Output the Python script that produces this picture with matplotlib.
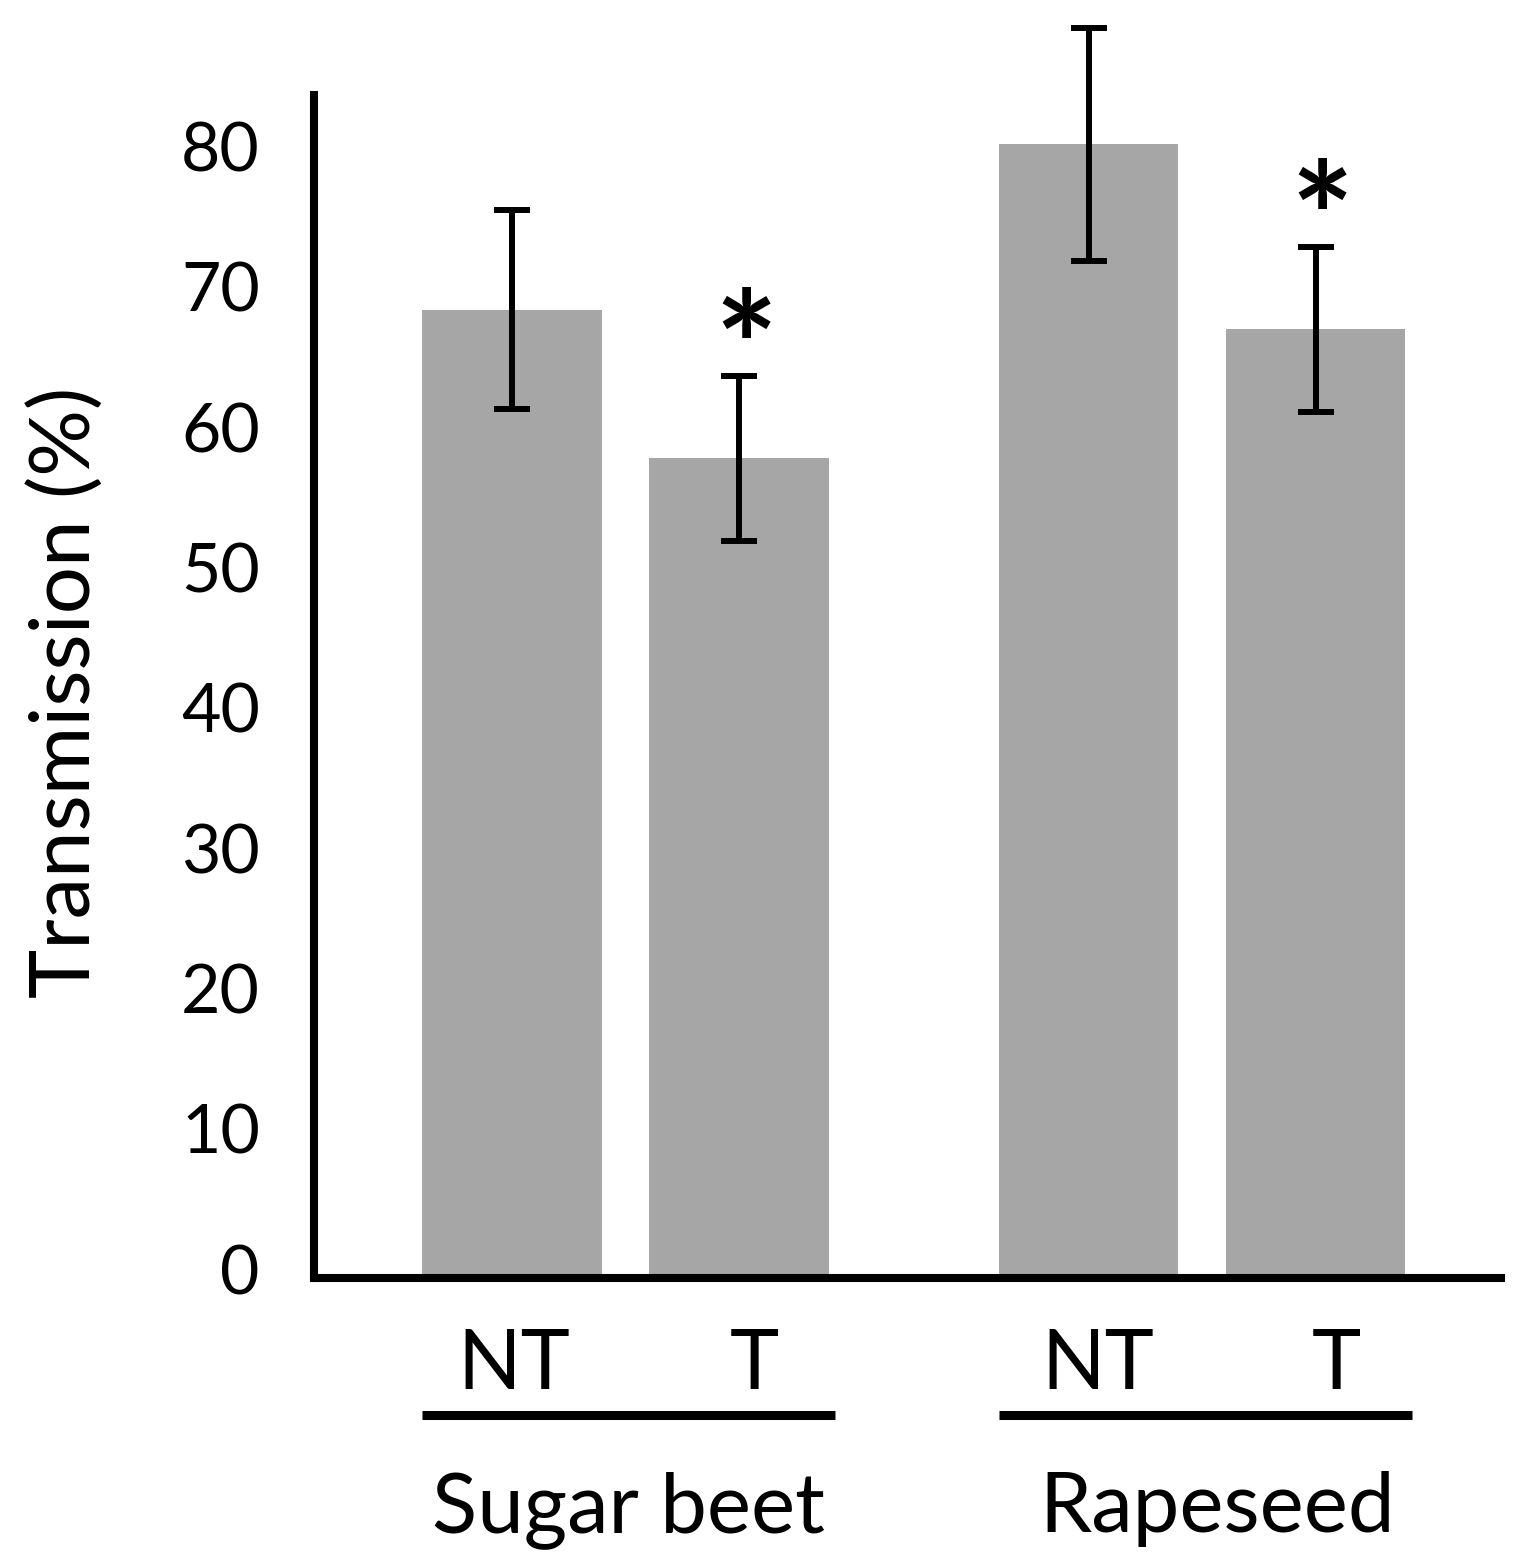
import matplotlib
matplotlib.use("Agg")
from matplotlib import pyplot as plt
from matplotlib.transforms import ScaledTranslation
import numpy as np

# data
groups = ["Sugar beet", "Rapeseed"]
treatments = ["NT", "T", "NT", "T"]
transmission = [69.0, 58.4, 80.8, 67.6]
error = [7.1, 5.9, 8.3, 5.9]
significant = [False, True, False, True]
yticks = [0, 10, 20, 30, 40, 50, 60, 70, 80]

# layout
positions = np.array([0, 1, 2.54, 3.54])
label_shift = [0.01, 0.07, 0.04, 0.09]
group_members = [[0, 1], [2, 3]]
bar_w = 0.79

plt.rcParams['font.family'] = ['Lato', 'DejaVu Sans']

fig = plt.figure(figsize=(15.31, 15.68), dpi=100)
ax = fig.add_axes([0.2051, 0.1849, 0.7753, 0.7545])

ax.bar(positions, transmission, width=bar_w, color="#a6a6a6", zorder=1)
ax.errorbar(positions, transmission, yerr=error, fmt="none", ecolor="black",
            elinewidth=4.3, capsize=13, capthick=4.3, clip_on=False, zorder=3)

ax.set_xlim(-0.872, 4.357)
ax.set_ylim(0, 84.3)

for s in ["top", "right"]:
    ax.spines[s].set_visible(False)
for s in ["left", "bottom"]:
    ax.spines[s].set_linewidth(5.8)
    ax.spines[s].set_capstyle("projecting")

ax.set_yticks(yticks)
ax.set_yticklabels([str(v) for v in yticks])
ax.tick_params(axis="y", length=0, pad=39, labelsize=49)
ax.set_xticks([])
up = ScaledTranslation(0, 0.09, fig.dpi_scale_trans)
for lab in ax.get_yticklabels():
    lab.set_transform(lab.get_transform() + up)

# asterisks above significant bars
for i in range(len(positions)):
    if significant[i]:
        ax.text(positions[i] + 0.03, transmission[i] + error[i] - 1.8, "*",
                ha="center", va="baseline", fontsize=107, fontweight="bold",
                clip_on=False)

# treatment labels under bars
xt = ax.get_xaxis_transform()
for i in range(len(positions)):
    ax.text(positions[i] + label_shift[i], -0.0938, treatments[i], transform=xt,
            ha="center", va="baseline", fontsize=60)

# group lines and group names
for g in range(len(groups)):
    idx = group_members[g]
    x0 = positions[idx[0]] - bar_w / 2
    x1 = positions[idx[-1]] + bar_w / 2 + 0.03
    ax.plot([x0, x1], [-0.1158, -0.1158], transform=xt, color="black",
            lw=6.5, clip_on=False, solid_capstyle="butt")
    ax.text((x0 + x1) / 2 + 0.05 * g, -0.2147, groups[g], transform=xt,
            ha="center", va="baseline", fontsize=60)

fig.text(67 / 1531, 1 - 692 / 1568, "Transmission (%)", rotation=90,
         ha="center", va="center", fontsize=60)

fig.savefig("out.png", dpi=100)
